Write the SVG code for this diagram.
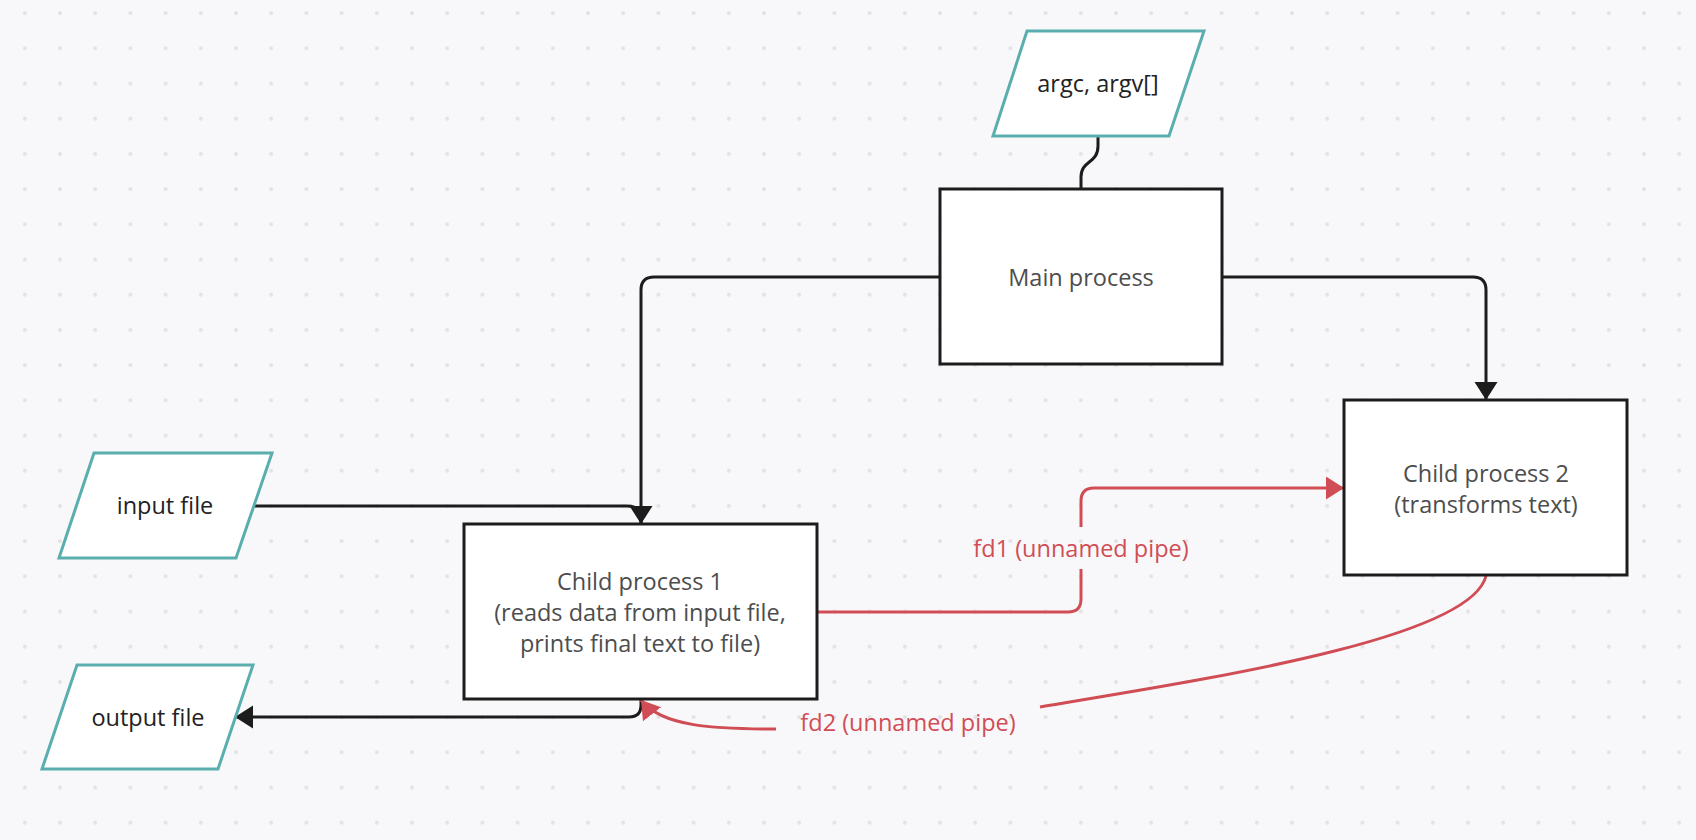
<svg xmlns="http://www.w3.org/2000/svg" width="1696" height="840" viewBox="0 0 1696 840">
<style>
.proc{fill:#ffffff;stroke:#1c1c1c;stroke-width:3}
.io{fill:#ffffff;stroke:#5aafae;stroke-width:3;stroke-linejoin:miter}
.ptxt{font-family:"Open Sans","Noto Sans",sans-serif;font-size:23.5px;fill:#4d4d4d;text-anchor:middle}
.iotxt{font-family:"Open Sans","Noto Sans",sans-serif;font-size:23.5px;fill:#222222;text-anchor:middle}
.lbl{font-family:"Open Sans","Noto Sans",sans-serif;font-size:23.5px;fill:#d14d55;text-anchor:middle}
.blk{fill:none;stroke:#1c1c1c;stroke-width:3}
.red{fill:none;stroke:#d14d55;stroke-width:3}
</style>
<defs>
<pattern id="dots" patternUnits="userSpaceOnUse" x="7.2" y="-4.5" width="35.2" height="35.2">
<circle cx="17.6" cy="17.6" r="2" fill="#e2e2e6"/>
</pattern>
<marker id="ab" markerUnits="userSpaceOnUse" markerWidth="20" markerHeight="24" refX="18" refY="11.5" orient="auto">
<path d="M0,0 L18,11.5 L0,23 Z" fill="#1c1c1c"/>
</marker>
<marker id="ar" markerUnits="userSpaceOnUse" markerWidth="20" markerHeight="24" refX="18" refY="11.5" orient="auto">
<path d="M0,0 L18,11.5 L0,23 Z" fill="#d14d55"/>
</marker>
</defs>
<rect width="1696" height="840" fill="#f8f8fa"/>
<rect width="1696" height="840" fill="url(#dots)"/>

<g id="connectors">
<path class="blk" d="M1098,136 L1098,146 C1098,164 1081,160 1081,177 L1081,189"/>
<path class="blk" d="M940,277 H654 Q641,277 641,290 V524" marker-end="url(#ab)"/>
<path class="blk" d="M1222,277 H1473 Q1486,277 1486,290 V400" marker-end="url(#ab)"/>
<path class="blk" d="M253,506 H627 Q641,506 641,518 V524"/>
<path class="blk" d="M641,700 V705 Q641,717 629,717 H235" marker-end="url(#ab)"/>
<path class="red" d="M817,612 H1068 Q1081,612 1081,599 V569"/>
<path class="red" d="M1081,527 V501 Q1081,488 1094,488 H1344" marker-end="url(#ar)"/>
<path class="red" d="M1486,576 C1470,640 1200,680 1040,707"/>
<path class="red" d="M776,729 C715,729 662,727 641,700" marker-end="url(#ar)"/>
<text class="lbl" x="1081" y="557">fd1 (unnamed pipe)</text>
<text class="lbl" x="908" y="731">fd2 (unnamed pipe)</text>
</g>

<g id="argv">
<polygon class="io" points="1027,31 1204,31 1169,136 993,136"/>
<text class="iotxt" x="1098" y="92">argc, argv[]</text>
</g>

<g id="main">
<rect class="proc" x="940" y="189" width="282" height="175"/>
<text class="ptxt" x="1081" y="286">Main process</text>
</g>

<g id="input">
<polygon class="io" points="94,453 272,453 236,558 59,558"/>
<text class="iotxt" x="165" y="514">input file</text>
</g>

<g id="child1">
<rect class="proc" x="464" y="524" width="353" height="175"/>
<text class="ptxt" x="640" y="589.5">Child process 1</text>
<text class="ptxt" x="640" y="620.5">(reads data from input file,</text>
<text class="ptxt" x="640" y="651.5">prints final text to file)</text>
</g>

<g id="child2">
<rect class="proc" x="1344" y="400" width="283" height="175"/>
<text class="ptxt" x="1486" y="482">Child process 2</text>
<text class="ptxt" x="1486" y="513">(transforms text)</text>
</g>

<g id="output">
<polygon class="io" points="77,665 253,665 218,769 42,769"/>
<text class="iotxt" x="148" y="726">output file</text>
</g>
</svg>
